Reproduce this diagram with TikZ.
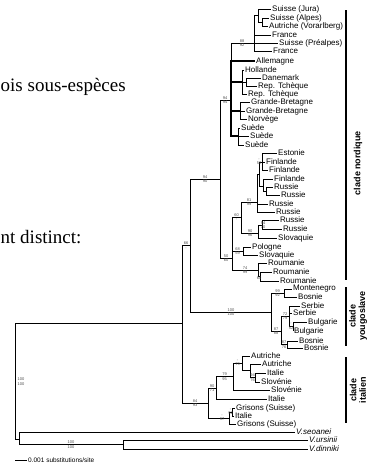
\documentclass[tikz,border=0pt]{standalone}
\usepackage{fontspec}
\setmainfont{Liberation Serif}
\setsansfont{Liberation Sans}

\begin{document}
\begin{tikzpicture}[x=1pt,y=-1pt,
  leaf/.style={anchor=west,inner sep=1pt,font=\sffamily\fontsize{8}{8}\selectfont},
  bs/.style={inner sep=0pt,align=center,text=black!70,font=\sffamily\fontsize{4}{4.3}\selectfont},
  br/.style={line width=.6pt},
  thick br/.style={line width=1.2pt},
  bar/.style={line width=1.1pt},
  clade/.style={rotate=90,align=center,font=\sffamily\bfseries\fontsize{9}{9.5}\selectfont},
  body/.style={anchor=base west,inner sep=0pt,font=\fontsize{19}{19}\selectfont}]
\useasboundingbox (0,0) rectangle (373,463);
% texte de la page
\node[body] (t1) at (0.5,91) {ois sous-espèces};
\node[body] (t2) at (0.5,243) {nt distinct:};
% noeuds internes
\coordinate (R) at (15,381.5);
\coordinate (A) at (182,323.5);
\coordinate (B) at (190,245.5);
\coordinate (C) at (220,179);
\coordinate (E) at (231,100);
\coordinate (N1) at (254,43);
\coordinate (S1) at (258,15);
\coordinate (S2) at (262,22);
\coordinate (N2a) at (242,82);
\coordinate (N2b) at (246,82);
\coordinate (N3) at (240,111);
\coordinate (N4) at (238,136);
\coordinate (D) at (232,258);
\coordinate (H) at (241,217);
\coordinate (G) at (257,202);
\coordinate (F) at (259,174);
\coordinate (F1) at (262,162);
\coordinate (F2) at (263,186);
\coordinate (F3) at (266,191);
\coordinate (J) at (258,233);
\coordinate (K) at (262,225);
\coordinate (P) at (243,251);
\coordinate (Ro) at (258,270);
\coordinate (Ro2) at (260,276.5);
\coordinate (Y) at (271,312);
\coordinate (M) at (284,293);
\coordinate (L) at (281,331);
\coordinate (SB) at (289,316);
\coordinate (BG) at (293,326.5);
\coordinate (BB) at (287,344.5);
\coordinate (I) at (208,403);
\coordinate (I1) at (216,388);
\coordinate (I2) at (233,376.5);
\coordinate (I3) at (242,363);
\coordinate (I4) at (250,370.5);
\coordinate (I5) at (255,377.5);
\coordinate (G1) at (229,418);
\coordinate (G2) at (232,412);
\coordinate (O) at (19,439);
\coordinate (O2) at (123,444.5);
% feuilles
\node[leaf] (l1) at (271,9) {Suisse (Jura)};
\node[leaf] (l2) at (269,18) {Suisse (Alpes)};
\node[leaf] (l3) at (268,26) {Autriche (Vorarlberg)};
\node[leaf] (l4) at (271,35) {France};
\node[leaf] (l5) at (278,43) {Suisse (Préalpes)};
\node[leaf] (l6) at (272,51) {France};
\node[leaf] (l7) at (255,61) {Allemagne};
\node[leaf] (l8) at (244,70) {Hollande};
\node[leaf] (l9) at (261,78) {Danemark};
\node[leaf] (l10) at (257,86) {Rep. Tchèque};
\node[leaf] (l11) at (247,94) {Rep. Tchèque};
\node[leaf] (l12) at (250,102) {Grande-Bretagne};
\node[leaf] (l13) at (245,111) {Grande-Bretagne};
\node[leaf] (l14) at (247,119) {Norvège};
\node[leaf] (l15) at (240,128) {Suède};
\node[leaf] (l16) at (249,136) {Suède};
\node[leaf] (l17) at (244,145) {Suède};
\node[leaf] (l18) at (277,153) {Estonie};
\node[leaf] (l19) at (265,162) {Finlande};
\node[leaf] (l20) at (268,170) {Finlande};
\node[leaf] (l21) at (273,179) {Finlande};
\node[leaf] (l22) at (273,187) {Russie};
\node[leaf] (l23) at (280,195) {Russie};
\node[leaf] (l24) at (268,204) {Russie};
\node[leaf] (l25) at (275,212) {Russie};
\node[leaf] (l26) at (279,220) {Russie};
\node[leaf] (l27) at (282,229) {Russie};
\node[leaf] (l28) at (277,238) {Slovaquie};
\node[leaf] (l29) at (251,247) {Pologne};
\node[leaf] (l30) at (258,255) {Slovaquie};
\node[leaf] (l31) at (267,263) {Roumanie};
\node[leaf] (l32) at (272,272) {Roumanie};
\node[leaf] (l33) at (279,281) {Roumanie};
\node[leaf] (l34) at (292,289) {Montenegro};
\node[leaf] (l35) at (297,297) {Bosnie};
\node[leaf] (l36) at (300,306) {Serbie};
\node[leaf] (l37) at (292,313) {Serbie};
\node[leaf] (l38) at (307,322) {Bulgarie};
\node[leaf] (l39) at (293,331) {Bulgarie};
\node[leaf] (l40) at (298,341) {Bosnie};
\node[leaf] (l41) at (303,348) {Bosnie};
\node[leaf] (l42) at (250,356) {Autriche};
\node[leaf] (l43) at (261,364) {Autriche};
\node[leaf] (l44) at (266,373) {Italie};
\node[leaf] (l45) at (260,382) {Slovénie};
\node[leaf] (l46) at (270,390) {Slovénie};
\node[leaf] (l47) at (267,399) {Italie};
\node[leaf] (l48) at (235,408) {Grisons (Suisse)};
\node[leaf] (l49) at (234,416) {Italie};
\node[leaf] (l50) at (236,424) {Grisons (Suisse)};
\node[leaf,font=\sffamily\itshape\fontsize{8}{8}\selectfont] (l51) at (295,432) {V.seoanei};
\node[leaf,font=\sffamily\itshape\fontsize{8}{8}\selectfont] (l52) at (308,440) {V.ursinii};
\node[leaf,font=\sffamily\itshape\fontsize{8}{8}\selectfont] (l53) at (308,449) {V.dinniki};
% branches
\draw[br] (R) |- (A); \draw[br] (R) |- (O);
\draw[br] (A) |- (B); \draw[br] (A) |- (I);
\draw[br] (B) |- (C); \draw[br] (B) |- (Y);
\draw[br] (C) |- (E); \draw[br] (C) |- (D);
\draw[br] (E) |- (N1); \draw[thick br] (E) |- (l7.west);
\draw[thick br] (E) |- (N2a); \draw[thick br] (E) |- (N3); \draw[thick br] (E) |- (N4);
\draw[br] (N1) |- (S1); \draw[br] (N1) |- (l4.west);
\draw[br] (N1) |- (l5.west); \draw[br] (N1) |- (l6.west);
\draw[br] (S1) |- (l1.west); \draw[br] (S1) |- (S2);
\draw[br] (S2) |- (l2.west); \draw[br] (S2) |- (l3.west);
\draw[br] (N2a) |- (l8.west); \draw[br] (N2a) |- (N2b); \draw[br] (N2a) |- (l11.west);
\draw[br] (N2b) |- (l9.west); \draw[br] (N2b) |- (l10.west);
\draw[br] (N3) |- (l12.west); \draw[br] (N3) |- (l13.west); \draw[br] (N3) |- (l14.west);
\draw[br] (N4) |- (l15.west); \draw[br] (N4) |- (l16.west); \draw[br] (N4) |- (l17.west);
\draw[br] (D) |- (H); \draw[br] (D) |- (P); \draw[br] (D) |- (Ro);
\draw[br] (H) |- (G); \draw[br] (H) |- (J);
\draw[br] (G) |- (F); \draw[br] (G) |- (l24.west); \draw[br] (G) |- (l25.west);
\draw[br] (F) |- (F1); \draw[br] (F) |- (F2);
\draw[br] (F1) |- (l18.west); \draw[br] (F1) |- (l19.west); \draw[br] (F1) |- (l20.west);
\draw[br] (F2) |- (l21.west); \draw[br] (F2) |- (F3);
\draw[br] (F3) |- (l22.west); \draw[br] (F3) |- (l23.west);
\draw[br] (J) |- (K); \draw[br] (J) |- (l28.west);
\draw[br] (K) |- (l26.west); \draw[br] (K) |- (l27.west);
\draw[br] (P) |- (l29.west); \draw[br] (P) |- (l30.west);
\draw[br] (Ro) |- (l31.west); \draw[br] (Ro) |- (Ro2);
\draw[br] (Ro2) |- (l32.west); \draw[br] (Ro2) |- (l33.west);
\draw[br] (Y) |- (M); \draw[br] (Y) |- (L);
\draw[br] (M) |- (l34.west); \draw[br] (M) |- (l35.west);
\draw[br] (L) |- (SB); \draw[br] (L) |- (BB);
\draw[br] (SB) |- (l36.west); \draw[br] (SB) |- (l37.west); \draw[br] (SB) |- (BG);
\draw[br] (BG) |- (l38.west); \draw[br] (BG) |- (l39.west);
\draw[br] (BB) |- (l40.west); \draw[br] (BB) |- (l41.west);
\draw[br] (I) |- (I1); \draw[br] (I) |- (G1);
\draw[br] (I1) |- (I2); \draw[br] (I1) |- (l47.west);
\draw[br] (I2) |- (I3); \draw[br] (I2) |- (l46.west);
\draw[br] (I3) |- (l42.west); \draw[br] (I3) |- (I4);
\draw[br] (I4) |- (l43.west); \draw[br] (I4) |- (I5);
\draw[br] (I5) |- (l44.west); \draw[br] (I5) |- (l45.west);
\draw[br] (G1) |- (G2); \draw[br] (G1) |- (l50.west);
\draw[br] (G2) |- (l48.west); \draw[br] (G2) |- (l49.west);
\draw[br] (O) |- (l51.west); \draw[br] (O) |- (O2);
\draw[br] (O2) |- (l52.west); \draw[br] (O2) |- (l53.west);
% valeurs de bootstrap
\node[bs] (b1) at (21,381.5) {100\\100};
\node[bs] (b2) at (186,245.5) {66\\-};
\node[bs] (b3) at (195,403) {84\\93};
\node[bs] (b4) at (205,179) {94\\90};
\node[bs] (b5) at (231,312) {100\\100};
\node[bs] (b6) at (225,100) {94\\94};
\node[bs] (b7) at (226,258) {50\\60};
\node[bs] (b8) at (242,43) {88\\92};
\node[bs] (b9) at (236.5,217) {60\\-};
\node[bs] (b10) at (249,202) {81\\99};
\node[bs] (b11) at (259,162) {-\\50};
\node[bs] (b12) at (250,233) {90\\96};
\node[bs] (b13) at (263,225) {94\\70};
\node[bs] (b14) at (237.5,251) {68\\59};
\node[bs] (b15) at (245,270) {74\\99};
\node[bs] (b16) at (259,276.5) {-\\60};
\node[bs] (b17) at (277.5,293) {99\\92};
\node[bs] (b18) at (276,331) {87\\88};
\node[bs] (b19) at (285,316) {72\\79};
\node[bs] (b20) at (291,326.5) {-\\52};
\node[bs] (b21) at (284,344.5) {87\\76};
\node[bs] (b22) at (212,388) {90\\71};
\node[bs] (b23) at (224.5,376.5) {79\\95};
\node[bs] (b24) at (237.5,363) {-\\79};
\node[bs] (b25) at (252.5,377.5) {94\\76};
\node[bs] (b26) at (222,418) {-\\97};
\node[bs] (b27) at (230.5,412) {-\\92};
\node[bs] (b28) at (71,444.5) {100\\100};
% clades
\coordinate (c1) at (346,10); \coordinate (c2) at (346,280);
\coordinate (c3) at (346,287); \coordinate (c4) at (346,346);
\coordinate (c5) at (346,357); \coordinate (c6) at (346,423);
\draw[bar] (c1) -- (c2); \draw[bar] (c3) -- (c4); \draw[bar] (c5) -- (c6);
\node[clade] (k1) at (358,163) {clade nordique};
\node[clade] (k2) at (358,316) {clade\\yougoslave};
\node[clade] (k3) at (358,390) {clade\\italien};
% echelle
\coordinate (e1) at (15,460); \coordinate (e2) at (27,460);
\draw[br] (e1) -- (e2);
\node[anchor=west,inner sep=1pt,font=\sffamily\fontsize{6.5}{6.5}\selectfont] (e3) at (e2) {0.001 substitutions/site};
\end{tikzpicture}
\end{document}
